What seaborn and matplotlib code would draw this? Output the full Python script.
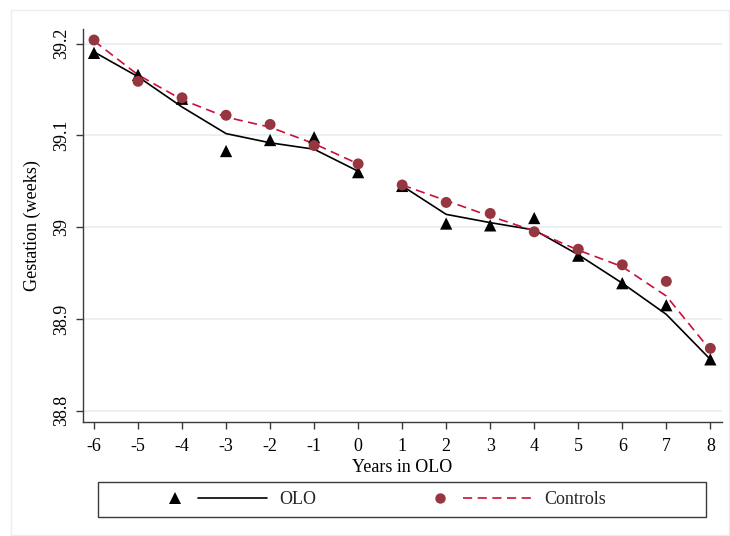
import matplotlib
matplotlib.use("Agg")
import matplotlib.pyplot as plt
import numpy as np
import pandas as pd
import seaborn as sns
from matplotlib.lines import Line2D
from matplotlib.legend_handler import HandlerBase
from matplotlib.patches import Rectangle

# ---------------- data ----------------
years = [-6, -5, -4, -3, -2, -1, 0, 1, 2, 3, 4, 5, 6, 7, 8]
olo_points = [39.190, 39.166, 39.140, 39.083, 39.095, 39.098, 39.060,
              39.045, 39.004, 39.002, 39.010, 38.969, 38.939, 38.915, 38.856]
ctrl_points = [39.204, 39.159, 39.141, 39.122, 39.112, 39.089, 39.069,
               39.046, 39.027, 39.015, 38.995, 38.976, 38.959, 38.941, 38.868]
olo_fit = [39.191, 39.164, 39.131, 39.102, 39.092, 39.085, 39.061,
           39.045, 39.014, 39.005, 38.997, 38.970, 38.939, 38.905, 38.856]
ctrl_fit = [39.203, 39.166, 39.139, 39.120, 39.109, 39.091, 39.069,
            39.046, 39.029, 39.012, 38.996, 38.975, 38.957, 38.925, 38.866]
groups = ["OLO", "Controls"]
y_ticks = [38.8, 38.9, 39.0, 39.1, 39.2]
y_tick_labels = ["38.8", "38.9", "39", "39.1", "39.2"]
x_ticks = years
x_label = "Years in OLO"
y_label = "Gestation (weeks)"

# ---------------- frames ----------------
n = len(years)
pts = pd.DataFrame({
    "year": years * 2,
    "value": olo_points + ctrl_points,
    "group": [groups[0]] * n + [groups[1]] * n,
})
fit = pd.DataFrame({
    "year": years * 2,
    "value": olo_fit + ctrl_fit,
    "group": [groups[0]] * n + [groups[1]] * n,
    "period": ["pre" if y <= 0 else "post" for y in years] * 2,
})

# ---------------- style ----------------
sns.set_theme(style="white")
plt.rcParams["font.family"] = ["Liberation Serif", "DejaVu Serif"]

line_colors = {"OLO": "black", "Controls": "#C8103A"}
marker_colors = {"OLO": "black", "Controls": "#953640"}
axis_color = "#3a3a3a"

fig = plt.figure(figsize=(7.3, 5.36), dpi=100)
ax = fig.add_axes([83 / 730, 1 - 422.3 / 536, (722 - 83) / 730, (422.3 - 29) / 536])

sns.lineplot(data=fit, x="year", y="value", hue="group", style="group",
             units="period", estimator=None, palette=line_colors,
             dashes={"OLO": "", "Controls": (5.5, 3.3)}, linewidth=1.2,
             legend=False, ax=ax, zorder=2)
sns.scatterplot(data=pts, x="year", y="value", hue="group", style="group",
                size="group", sizes={"OLO": 78, "Controls": 62},
                markers={"OLO": "^", "Controls": "o"}, palette=marker_colors,
                linewidth=0, legend=False, ax=ax, zorder=3)

ax.set_xlim(-6.25, 8.265)
ax.set_ylim(38.7874, 39.216)
ax.set_xticks(x_ticks, labels=[str(v) for v in x_ticks])
ax.set_yticks(y_ticks, labels=y_tick_labels, rotation=90, va="center")
ax.yaxis.grid(True, color="#E8EEF1", linewidth=1.3)
ax.xaxis.grid(False)
ax.set_axisbelow(True)
for s in ["top", "right"]:
    ax.spines[s].set_visible(False)
for s in ["left", "bottom"]:
    ax.spines[s].set_color(axis_color)
    ax.spines[s].set_linewidth(1.0)
ax.tick_params(axis="both", which="major", direction="out", length=5, width=1,
               color=axis_color, labelsize=13, labelcolor="black",
               bottom=True, left=True)
ax.tick_params(axis="y", pad=4)
ax.tick_params(axis="x", pad=6)
ax.set_xlabel(x_label, fontsize=13, labelpad=3, color="black")
ax.set_ylabel(y_label, fontsize=13, labelpad=9, color="black")

# outer faint frame
fig.patches.append(Rectangle((11 / 730, 1 / 536), 718 / 730, 525 / 536,
                             transform=fig.transFigure, fill=False,
                             edgecolor="#E8EEF1", linewidth=1.0))
# legend frame
fig.patches.append(Rectangle((98 / 730, 1 - 517 / 536), 608 / 730, 35 / 536,
                             transform=fig.transFigure, fill=False,
                             edgecolor=axis_color, linewidth=1.0))


class MarkerLineHandler(HandlerBase):
    def __init__(self, marker, mcolor, msize, lcolor, dashes):
        super().__init__()
        self.marker = marker
        self.mcolor = mcolor
        self.msize = msize
        self.lcolor = lcolor
        self.dashes = dashes

    def create_artists(self, legend, orig_handle, xdescent, ydescent,
                       width, height, fontsize, trans):
        x0 = -xdescent
        y = height / 2 - ydescent
        m = Line2D([x0 + 0.09 * width], [y], marker=self.marker, linestyle="none",
                   markersize=self.msize, markerfacecolor=self.mcolor,
                   markeredgewidth=0, transform=trans)
        ln = Line2D([x0 + 0.32 * width, x0 + width], [y, y], color=self.lcolor,
                    linewidth=1.2, transform=trans)
        if self.dashes:
            ln.set_dashes(self.dashes)
        return [ln, m]


h_olo = Line2D([], [])
h_ctrl = Line2D([], [])
fig.legend([h_olo, h_ctrl], groups,
           handler_map={
               h_olo: MarkerLineHandler("^", marker_colors["OLO"], 8.5, line_colors["OLO"], None),
               h_ctrl: MarkerLineHandler("o", marker_colors["Controls"], 7.5, line_colors["Controls"], (5.5, 3.3)),
           },
           loc="center left", bbox_to_anchor=(166 / 730, 1 - 499.5 / 536),
           frameon=False, ncol=2, handlelength=5.6, handletextpad=0.7,
           columnspacing=6.3, borderpad=0, borderaxespad=0, fontsize=13)

fig.savefig("out.png", dpi=100, facecolor="white")
